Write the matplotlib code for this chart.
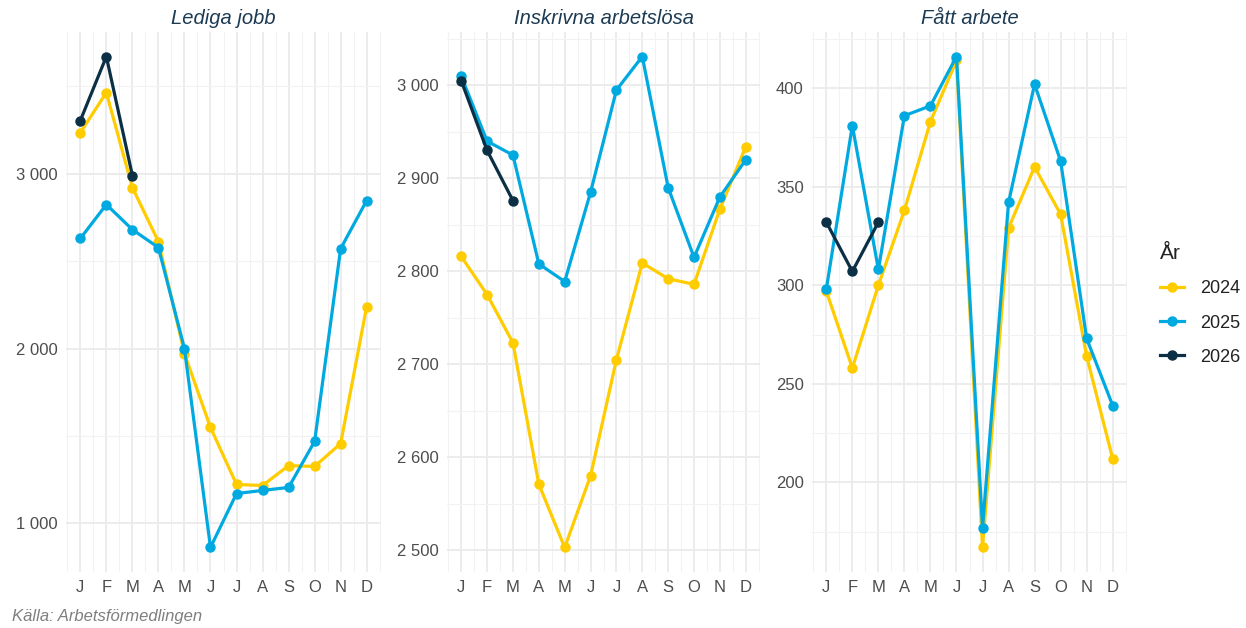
import matplotlib.pyplot as plt
import numpy as np

plt.rcParams['font.family'] = ['Liberation Sans', 'DejaVu Sans']

# months
months = ["J", "F", "M", "A", "M", "J", "J", "A", "S", "O", "N", "D"]
years = ["2024", "2025", "2026"]
colors = {"2024": "#FFCC00", "2025": "#00A9E0", "2026": "#0B2F45"}

# Lediga jobb
lediga_2024 = [3234, 3463, 2920, 2611, 1971, 1549, 1223, 1217, 1331, 1326, 1457, 2240]
lediga_2025 = [2629, 2823, 2680, 2577, 2000, 863, 1171, 1189, 1206, 1469, 2571, 2846]
lediga_2026 = [3303, 3669, 2989]

# Inskrivna arbetslösa
inskr_2024 = [2816, 2775, 2723, 2571, 2503, 2580, 2705, 2809, 2792, 2786, 2867, 2934]
inskr_2025 = [3010, 2940, 2925, 2808, 2789, 2885, 2995, 3031, 2890, 2815, 2880, 2920]
inskr_2026 = [3005, 2930, 2876]

# Fått arbete
fatt_2024 = [297, 258, 300, 338, 383, 414, 167, 329, 360, 336, 264, 212]
fatt_2025 = [298, 381, 308, 386, 391, 416, 177, 342, 402, 363, 273, 239]
fatt_2026 = [332, 307, 332]

panels = [
    ("Lediga jobb", [lediga_2024, lediga_2025, lediga_2026], [1000, 2000, 3000], 500),
    ("Inskrivna arbetslösa", [inskr_2024, inskr_2025, inskr_2026], [2500, 2600, 2700, 2800, 2900, 3000], 50),
    ("Fått arbete", [fatt_2024, fatt_2025, fatt_2026], [200, 250, 300, 350, 400], 25),
]

W, H = 1246, 628
fig = plt.figure(figsize=(W / 100, H / 100), dpi=100)
lefts = [66, 447, 812]
widths = [315, 313, 315]
top, bottom = 32, 572

def fmt(v):
    return f"{v:,.0f}".replace(",", " ")

for k, (title, series, majors, step) in enumerate(panels):
    ax = fig.add_axes([lefts[k] / W, (H - bottom) / H, widths[k] / W, (bottom - top) / H])
    lo = min(min(s) for s in series)
    hi = max(max(s) for s in series)
    pad = (hi - lo) * 0.05
    ax.set_yticks(majors)
    ax.set_yticklabels([fmt(v) for v in majors])
    minors = np.arange(majors[0] - step, majors[-1] + 2 * step, 2 * step)
    ax.set_yticks(minors, minor=True)
    ax.set_xticks(range(1, 13))
    ax.set_xticklabels(months)
    ax.set_xticks(np.arange(0.5, 13, 1), minor=True)
    # limits after ticks, otherwise set_yticks widens them
    ax.set_ylim(lo - pad, hi + pad)
    ax.set_xlim(1 - 0.55, 12 + 0.55)
    ax.grid(which="major", color="#ebebeb", lw=1.3)
    ax.grid(which="minor", color="#f2f2f2", lw=0.8)
    ax.set_axisbelow(True)
    for sp in ax.spines.values():
        sp.set_visible(False)
    ax.tick_params(which="both", length=0, labelsize=12, labelcolor="#4d4d4d", pad=6)
    for yr, vals in zip(years, series):
        x = np.arange(1, len(vals) + 1)
        ax.plot(x, vals, color=colors[yr], lw=2.3, marker="o", ms=6.5, label=yr,
                solid_joinstyle="round", zorder=3)
    ax.set_title(title, fontsize=14.5, style="italic", color="#1c3a52", pad=6)
    if k == 2:
        handles, labels = ax.get_legend_handles_labels()

leg = fig.legend(handles, labels, title="År", loc="upper left",
                 bbox_to_anchor=(1144 / W, 1 - 228 / H), frameon=False,
                 fontsize=13, title_fontsize=15, handlelength=1.3,
                 handletextpad=0.9, labelspacing=0.95, alignment="left")
for t in leg.get_texts():
    t.set_color("#222222")
leg.get_title().set_color("#222222")

fig.text(12 / W, 1 - 617 / H, "Källa: Arbetsförmedlingen", fontsize=12,
         style="italic", color="#7f7f7f", va="center", ha="left")

fig.savefig("out.png", dpi=100)
